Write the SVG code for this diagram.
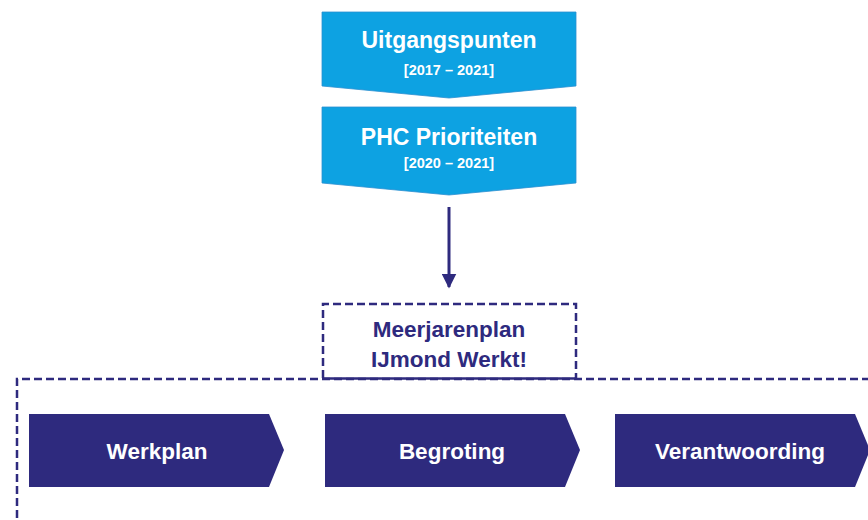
<svg xmlns="http://www.w3.org/2000/svg" width="868" height="520" viewBox="0 0 868 520">
<defs>
<style>
.blue{fill:#0da2e2;stroke:#2b8fd0;stroke-width:0.8}
.navy{fill:#2e2a7e}
.t{font-family:"Liberation Sans",Arial,sans-serif;font-weight:bold;text-anchor:middle}
.w{fill:#ffffff}
.n{fill:#2e2a7e}
.dash{fill:none;stroke:#2e2a7e;stroke-width:2.5;stroke-dasharray:8 4}
</style>
<marker id="ah" markerWidth="5" markerHeight="5" refX="4.5" refY="2.5" orient="auto" markerUnits="strokeWidth">
<path d="M0,0 L5,2.5 L0,5 Z" fill="#2e2a7e"/>
</marker>
</defs>
<rect width="868" height="520" fill="#ffffff"/>
<g id="uitgangspunten">
<path class="blue" d="M322,12 H576 V86 L449,98 L322,86 Z"/>
<text class="t w" x="449" y="48" font-size="23">Uitgangspunten</text>
<text class="t w" x="449" y="75" font-size="14.5">[2017 – 2021]</text>
</g>
<g id="phc">
<path class="blue" d="M322,107 H576 V183 L449,195 L322,183 Z"/>
<text class="t w" x="449" y="145" font-size="23">PHC Prioriteiten</text>
<text class="t w" x="449" y="168" font-size="14.5">[2020 – 2021]</text>
</g>
<g id="connectors">
<line x1="449" y1="207" x2="449" y2="287" stroke="#2e2a7e" stroke-width="3" marker-end="url(#ah)"/>
</g>
<g id="kader">
<path class="dash" d="M17,530 V379 H880"/>
</g>
<g id="meerjarenplan">
<path class="dash" d="M323,378 V304 H576 V378"/>
<line x1="323" y1="378.5" x2="576" y2="378.5" stroke="#2e2a7e" stroke-width="2.5"/>
<text class="t n" x="449" y="337" font-size="22.5">Meerjarenplan</text>
<text class="t n" x="449" y="367" font-size="22.5">IJmond Werkt!</text>
</g>
<g id="werkplan">
<path class="navy" d="M29,414 H269 L284,450 L269,487 H29 Z"/>
<text class="t w" x="157" y="459" font-size="22.5">Werkplan</text>
</g>
<g id="begroting">
<path class="navy" d="M325,414 H565 L580,450 L565,487 H325 Z"/>
<text class="t w" x="452" y="459" font-size="22.5">Begroting</text>
</g>
<g id="verantwoording">
<path class="navy" d="M615,414 H855 L870,450 L855,487 H615 Z"/>
<text class="t w" x="740" y="459" font-size="22.5">Verantwoording</text>
</g>
</svg>
